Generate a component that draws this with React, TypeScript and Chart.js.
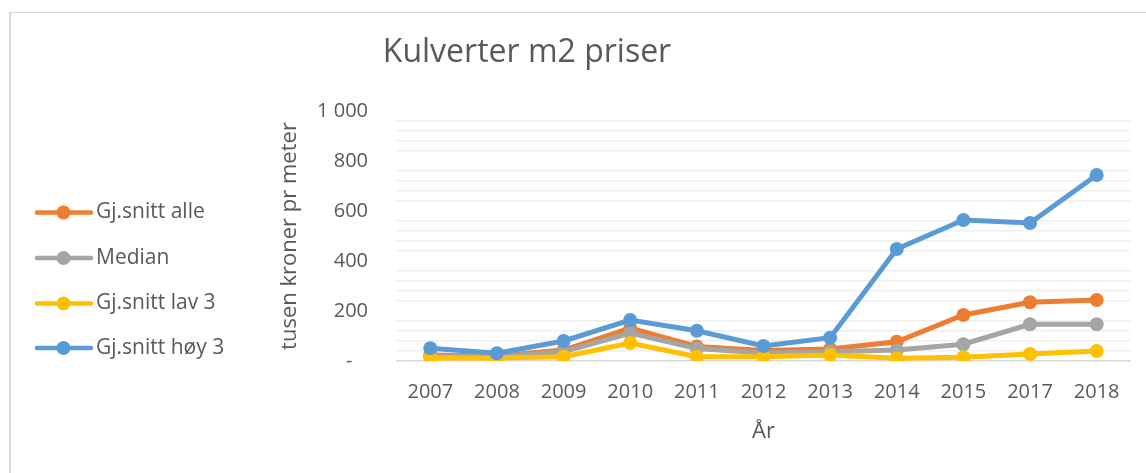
import React, { useEffect, useRef } from "react";
import { Chart, registerables } from "chart.js";

Chart.register(...registerables);

const years = ["2007", "2008", "2009", "2010", "2011", "2012", "2013", "2014", "2015", "2017", "2018"];
const snittAlle = [24, 20, 44, 132, 58, 42, 48, 77, 184, 235, 244];
const median = [20, 17, 37, 112, 50, 32, 37, 44, 67, 147, 147];
const snittLav3 = [12, 12, 17, 72, 17, 17, 24, 11, 15, 28, 40];
const snittHoy3 = [51, 31, 80, 164, 121, 60, 93, 448, 564, 552, 744];

const seriesNames = ["Gj.snitt alle", "Median", "Gj.snitt lav 3", "Gj.snitt høy 3"];
const seriesColors = ["#ED7D31", "#A5A5A5", "#FFC000", "#5B9BD5"];
const titleText = "Kulverter m2 priser";
const yTitle = "tusen kroner pr meter";
const xTitle = "År";

const FONT = "'Open Sans', 'DejaVu Sans', sans-serif";
const TEXT_COLOR = "#595959";

const overlayPlugin = {
  id: "overlay",
  afterDraw(chart: any) {
    const ctx = chart.ctx;
    ctx.save();
    ctx.fillStyle = TEXT_COLOR;
    ctx.font = `32px ${FONT}`;
    ctx.textAlign = "center";
    ctx.textBaseline = "middle";
    ctx.fillText(titleText, 527, 53);

    const rows = [212.5, 258, 303.5, 348];
    chart.data.datasets.forEach((ds: any, i: number) => {
      const y = rows[i];
      ctx.strokeStyle = ds.borderColor;
      ctx.lineWidth = 4.5;
      ctx.lineCap = "round";
      ctx.beginPath();
      ctx.moveTo(37, y);
      ctx.lineTo(91, y);
      ctx.stroke();
      ctx.fillStyle = ds.borderColor;
      ctx.beginPath();
      ctx.arc(63.5, y, 7, 0, Math.PI * 2);
      ctx.fill();
      ctx.fillStyle = TEXT_COLOR;
      ctx.font = `21px ${FONT}`;
      ctx.textAlign = "left";
      ctx.textBaseline = "middle";
      ctx.fillText(ds.label, 96, y);
    });
    ctx.restore();
  },
};

export default function App() {
  const ref = useRef<HTMLCanvasElement | null>(null);

  useEffect(() => {
    if (!ref.current) return;
    const values = [snittAlle, median, snittLav3, snittHoy3];
    const orders = [4, 3, 2, 1];
    const chart = new Chart(ref.current, {
      type: "line",
      data: {
        labels: years,
        datasets: values.map((v, i) => ({
          label: seriesNames[i],
          data: v,
          borderColor: seriesColors[i],
          backgroundColor: seriesColors[i],
          pointBackgroundColor: seriesColors[i],
          pointBorderColor: seriesColors[i],
          pointRadius: 7,
          pointBorderWidth: 0,
          borderWidth: 5,
          tension: 0,
          order: orders[i],
        })),
      },
      options: {
        responsive: false,
        animation: false,
        layout: { padding: { left: 270, right: 16, top: 111, bottom: 22 } },
        plugins: {
          legend: { display: false },
          title: { display: false },
          tooltip: { enabled: false },
        },
        scales: {
          x: {
            offset: true,
            grid: { display: false, drawTicks: false },
            border: { display: true, color: "#d9d9d9", width: 1.5 },
            ticks: { color: TEXT_COLOR, font: { family: FONT, size: 20 }, padding: 19, maxRotation: 0, autoSkip: false },
            title: { display: true, text: xTitle, color: TEXT_COLOR, font: { family: FONT, size: 22 }, padding: { top: 0, bottom: 6 } },
            afterFit: (scale: any) => {
              scale.height = 90;
            },
          },
          y: {
            min: 0,
            max: 1000,
            border: { display: false },
            grid: {
              drawTicks: false,
              lineWidth: 1.5,
              color: (c: any) => {
                const v = c.tick ? c.tick.value : 0;
                if (v === 0) return "rgba(0,0,0,0)";
                if (v % 200 === 0) return "rgba(0,0,0,0)";
                return "#efefef";
              },
            },
            ticks: {
              stepSize: 40,
              autoSkip: false,
              color: TEXT_COLOR,
              font: { family: FONT, size: 20 },
              padding: 29,
              callback: (v: any) => {
                const n = Number(v);
                if (n % 200 !== 0) return "";
                if (n === 0) return "-   ";
                if (n === 1000) return "1 000";
                return String(n);
              },
            },
            title: { display: true, text: yTitle, color: TEXT_COLOR, font: { family: FONT, size: 22 }, padding: { top: 7, bottom: 0 } },
            afterFit: (scale: any) => {
              scale.width = 127;
            },
          },
        },
      },
      plugins: [overlayPlugin],
    });
    return () => chart.destroy();
  }, []);

  return (
    <div style={{ position: "fixed", left: 0, top: 0, width: 1146, height: 473, background: "#fff", overflow: "hidden" }}>
      <div
        style={{
          position: "absolute",
          left: 9,
          top: 12,
          width: 2000,
          height: 1000,
          borderLeft: "2px solid #d9d9d9",
          borderTop: "1.5px solid #d9d9d9",
        }}
      />
      <canvas ref={ref} width={1146} height={473} style={{ position: "absolute", left: 0, top: 0, display: "block" }} />
    </div>
  );
}
